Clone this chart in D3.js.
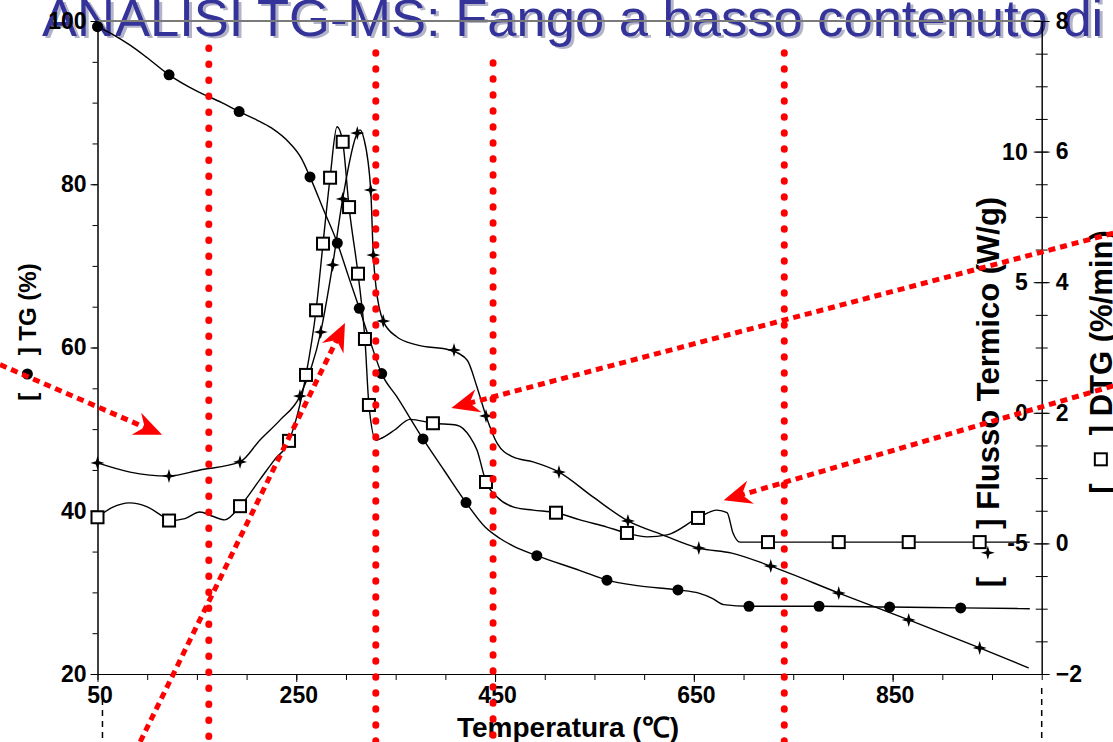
<!DOCTYPE html>
<html>
<head>
<meta charset="utf-8">
<script src="https://cdn.jsdelivr.net/npm/d3@7"></script>
<style>
  body { margin: 0; background: #fff; }
  svg { display: block; font-family: "Liberation Sans", Arial, sans-serif; }
  .tick text { font-weight: bold; font-size: 23px; fill: #000; }
</style>
</head>
<body>
<script>
// TG curve [temperatura, %] and its filled circle markers
var tgCurve = [[50,99.3],[66,98.3],[82,97.1],[100,95.5],[122,93.4],[150,91.4],[175,90.0],[192.5,88.9],[210,87.9],[225,86.9],[243.7,85.0],[255,83.2],[263.8,80.9],[277,77.0],[291.3,72.8],[302,68.9],[313.4,64.8],[324.5,60.7],[335.9,56.8],[351,54.0],[377.5,48.8],[399,44.9],[420.8,41.0],[440,38.0],[455,36.6],[468,35.7],[492,34.5],[535,32.7],[562.6,31.5],[595,30.8],[634,30.3],[655,29.9],[668,29.3],[680,28.5],[705.5,28.3],[776,28.3],[847,28.2],[918.5,28.1],[988,28.0]];
var tgMarks = [[50,99.3],[122,93.4],[192.5,88.9],[263.8,80.9],[291.3,72.8],[313.4,64.8],[335.9,56.8],[377.5,48.8],[420.8,41.0],[492,34.5],[562.6,31.5],[634,30.3],[705.5,28.3],[776,28.3],[847,28.2],[918.5,28.1]];

// DTG curve [temperatura, %/min] and its open square markers
var dtgCurve = [[50,0.40],[65,0.55],[82,0.62],[100,0.56],[115,0.42],[122,0.35],[138,0.38],[153,0.48],[165,0.42],[178,0.36],[193.4,0.57],[213,0.97],[228,1.28],[242.7,1.57],[259.8,2.58],[269.9,3.57],[276.9,4.59],[284,5.60],[291,6.38],[296.7,6.15],[303.1,5.15],[312.1,4.13],[319.1,3.13],[323.1,2.12],[330.2,1.58],[334.2,1.60],[349.3,1.74],[364.4,1.90],[387.5,1.84],[411.7,1.81],[424.8,1.63],[431.8,1.43],[440.9,0.94],[452,0.71],[468,0.56],[488.2,0.51],[511.3,0.47],[535.5,0.36],[562.6,0.25],[582.7,0.16],[602.9,0.10],[623,0.13],[654.2,0.39],[673.3,0.51],[683.4,0.47],[689.4,0.16],[696.5,0.02],[724.6,0.02],[988,0.02]];
var dtgMarks = [[50,0.40],[122,0.35],[193.4,0.57],[242.7,1.57],[259.8,2.58],[269.9,3.57],[276.9,4.59],[284,5.60],[296.7,6.15],[303.1,5.15],[312.1,4.13],[319.1,3.13],[323.1,2.12],[387.5,1.84],[440.9,0.94],[511.3,0.47],[582.7,0.16],[654.2,0.39],[724.6,0.02],[795.8,0.02],[866.2,0.02],[937.6,0.02]];

// Flusso termico curve [temperatura, W/g] and its star markers
var hfCurve = [[50,-1.92],[82.7,-2.27],[121.9,-2.42],[153.1,-2.19],[193.4,-1.88],[213.5,-1.04],[233.6,-0.28],[253.7,0.64],[274.6,3.09],[286.6,5.66],[296.7,8.19],[311.4,10.71],[314.1,10.83],[318,10.5],[324.9,8.53],[327.5,6.04],[330.2,4.83],[337.5,3.51],[351,2.91],[371.2,2.60],[404.7,2.40],[421.8,2.02],[431.8,0.99],[440.9,-0.12],[452,-1.16],[468,-1.69],[488.2,-1.88],[514.3,-2.27],[548.5,-3.22],[583.7,-4.14],[619,-4.68],[655,-5.18],[688.2,-5.37],[727.4,-5.87],[795.8,-6.90],[866.2,-7.93],[937.6,-9.00],[986.9,-9.77]];
var hfMarks = [[50,-1.92],[121.9,-2.42],[193.4,-1.88],[253.7,0.64],[274.6,3.09],[286.6,5.66],[296.7,8.19],[311.4,10.71],[324.9,8.53],[327.5,6.04],[337.5,3.51],[408.7,2.40],[440.9,-0.12],[514.3,-2.27],[583.7,-4.14],[655,-5.18],[727.4,-5.87],[795.8,-6.90],[866.2,-7.93],[937.6,-9.00]];

// tick labels
var tempTicks = [50, 250, 450, 650, 850];
var tgTicks = [20, 40, 60, 80, 100];
var dtgTicks = [-2, 0, 2, 4, 6, 8];
var hfTicks = [-5, 0, 5, 10];

// red annotations: vertical guides (temperatura) and arrows [from, to] in [temperatura, TG %]
var guideTemps = [162, 330, 448, 741];
var guideTops = [96.7, 96.1, 94.9, 96.1];
var arrows = [
  [[-48, 57.9], [115, 49.3]],
  [[93, 11.7], [299, 63.0]],
  [[1072, 74.0], [406, 52.6]],
  [[1072, 55.3], [680, 41.3]]
];

var width = 1113, height = 742;
var plot = { left: 97.5, right: 1041.7, top: 21, bottom: 674 };

var svg = d3.select("body").append("svg")
  .attr("width", width)
  .attr("height", height);

// title of the slide, cut at the top
var title = "ANALISI TG-MS: Fango a basso contenuto di";
svg.append("text").attr("x", 45).attr("y", 38).attr("fill", "#b4b4c8")
  .style("font-size", "52.5px").text(title);
svg.append("text").attr("x", 42).attr("y", 36).attr("fill", "#333399")
  .style("font-size", "52.5px").text(title);

var x = d3.scaleLinear().domain([50, 1000]).range([plot.left, plot.right]);
var yTG = d3.scaleLinear().domain([20, 100]).range([plot.bottom, plot.top]);
var yDTG = d3.scaleLinear().domain([-2, 8]).range([plot.bottom, plot.top]);
var yHF = d3.scaleLinear().domain([-10, 15]).range([plot.bottom, plot.top]);

// top frame line
svg.append("line")
  .attr("x1", plot.left).attr("x2", plot.right)
  .attr("y1", plot.top).attr("y2", plot.top)
  .attr("stroke", "#7a7a7a").attr("stroke-width", 2);

// x axis
svg.append("g")
  .attr("transform", "translate(0," + plot.bottom + ")")
  .call(d3.axisBottom(x).tickValues(d3.range(50, 1001, 50)).tickFormat("").tickSize(6).tickSizeOuter(0));
svg.append("g")
  .attr("transform", "translate(0," + plot.bottom + ")")
  .call(d3.axisBottom(x).tickValues(tempTicks).tickSize(8).tickPadding(5).tickSizeOuter(0))
  .selectAll(".tick text").attr("dx", 2);

// left TG axis
svg.append("g")
  .attr("transform", "translate(" + plot.left + ",0)")
  .call(d3.axisLeft(yTG).tickValues(d3.range(20, 101, 5)).tickFormat("").tickSize(5).tickSizeOuter(0));
svg.append("g")
  .attr("transform", "translate(" + plot.left + ",0)")
  .call(d3.axisLeft(yTG).tickValues(tgTicks).tickSize(7).tickPadding(4).tickSizeOuter(0));

// right DTG axis, ticks cross the line
var minorR = svg.append("g")
  .attr("transform", "translate(" + plot.right + ",0)")
  .call(d3.axisRight(yDTG).tickValues(d3.range(-2, 8.01, 0.5)).tickFormat("").tickSize(6).tickSizeOuter(0));
minorR.selectAll(".tick line").attr("x1", -6);
var majorR = svg.append("g")
  .attr("transform", "translate(" + plot.right + ",0)")
  .call(d3.axisRight(yDTG).tickValues(dtgTicks).tickSize(8).tickPadding(6).tickSizeOuter(0));
majorR.selectAll(".tick line").attr("x1", -8);

// heat flow labels sit inside the right axis
svg.append("g").selectAll("text")
  .data(hfTicks)
  .enter().append("text")
  .attr("x", plot.right - 14)
  .attr("y", (d) => yHF(d))
  .attr("dy", "0.35em")
  .attr("text-anchor", "end")
  .style("font-weight", "bold").style("font-size", "23px")
  .text((d) => d);

svg.selectAll(".domain").attr("stroke", "#000");

// black dashed lines below the frame
[55, 1000].forEach(function (t) {
  svg.append("line")
    .attr("x1", x(t)).attr("x2", x(t))
    .attr("y1", plot.bottom + 14).attr("y2", height)
    .attr("stroke", "#000").attr("stroke-width", 1.5)
    .attr("stroke-dasharray", "6,5");
});

// curves
function drawCurve(data, yScale) {
  var line = d3.line()
    .x((d) => x(d[0]))
    .y((d) => yScale(d[1]))
    .curve(d3.curveMonotoneX);
  svg.append("path")
    .attr("d", line(data))
    .attr("fill", "none")
    .attr("stroke", "#000")
    .attr("stroke-width", 1.4);
}
drawCurve(tgCurve, yTG);
drawCurve(dtgCurve, yDTG);
drawCurve(hfCurve, yHF);

// marker drawing, used by the plot and by the axis titles
var star = "M0,-7L1.6,-1.6L7,0L1.6,1.6L0,7L-1.6,1.6L-7,0L-1.6,-1.6Z";
function marker(g, kind, cx, cy) {
  if (kind === "circle") {
    g.append("circle").attr("cx", cx).attr("cy", cy).attr("r", 5.5).attr("fill", "#000");
  } else if (kind === "square") {
    g.append("rect").attr("x", cx - 6).attr("y", cy - 6)
      .attr("width", 12).attr("height", 12)
      .attr("fill", "#fff").attr("stroke", "#000").attr("stroke-width", 2);
  } else {
    g.append("path").attr("d", star)
      .attr("transform", "translate(" + cx + "," + cy + ")")
      .attr("fill", "#000");
  }
}

var markG = svg.append("g");
tgMarks.forEach((d) => marker(markG, "circle", x(d[0]), yTG(d[1])));
dtgMarks.forEach((d) => marker(markG, "square", x(d[0]), yDTG(d[1])));
hfMarks.forEach((d) => marker(markG, "star", x(d[0]), yHF(d[1])));

// axis titles; "[ _ ]" gets the series marker drawn in the gap
function axisTitle(tx, ty, rot, size, pre, kind, post) {
  var g = svg.append("g")
    .attr("transform", "translate(" + tx + "," + ty + ") rotate(" + rot + ")");
  var gap = kind ? "\u2003" : "";
  var t = g.append("text")
    .attr("text-anchor", "middle")
    .style("font-weight", "bold").style("font-size", size + "px")
    .text(pre + gap + (post || ""));
  if (kind) {
    var ext = t.node().getExtentOfChar(pre.length);
    marker(g, kind, ext.x + ext.width / 2, -size * 0.36);
  }
}
axisTitle(568, 737, 0, 28, "Temperatura (\u2103)");
axisTitle(36, 332, -90, 24, "[ ", "circle", " ] TG (%)");
axisTitle(999, 392, -90, 31, "[ ", "star", " ] Flusso Termico (W/g)");
axisTitle(1112, 362, -90, 31, "[ ", "square", " ] DTG (%/min)");

// red dotted guides
guideTemps.forEach(function (t, i) {
  svg.append("line")
    .attr("x1", x(t)).attr("x2", x(t))
    .attr("y1", yTG(guideTops[i])).attr("y2", height)
    .attr("stroke", "#ff0000").attr("stroke-width", 7)
    .attr("stroke-linecap", "round")
    .attr("stroke-dasharray", "0.5,15.5");
});

// red dotted arrows with barbed heads
arrows.forEach(function (a) {
  var x1 = x(a[0][0]), y1 = yTG(a[0][1]);
  var x2 = x(a[1][0]), y2 = yTG(a[1][1]);
  var ang = Math.atan2(y2 - y1, x2 - x1);
  var len = Math.hypot(x2 - x1, y2 - y1);
  var g = svg.append("g")
    .attr("transform", "translate(" + x1 + "," + y1 + ") rotate(" + (ang * 180 / Math.PI) + ")");
  g.append("line")
    .attr("x1", 0).attr("x2", len - 18)
    .attr("y1", 0).attr("y2", 0)
    .attr("stroke", "#ff0000").attr("stroke-width", 5)
    .attr("stroke-dasharray", "7,5");
  g.append("path")
    .attr("d", "M" + len + ",0L" + (len - 28) + ",-12L" + (len - 19) + ",0L" + (len - 28) + ",12Z")
    .attr("fill", "#ff0000");
});
</script>
</body>
</html>
